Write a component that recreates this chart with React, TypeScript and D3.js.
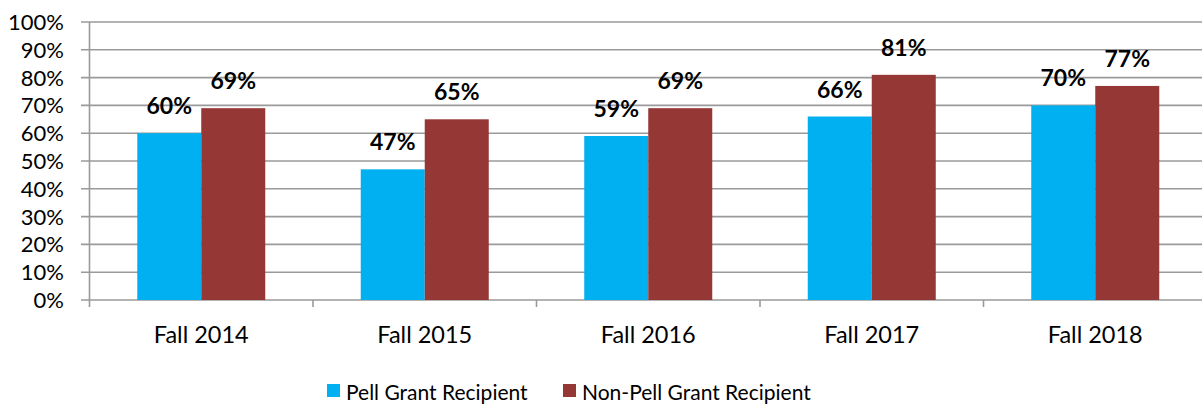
import React, { useEffect, useRef } from "react";
import * as d3 from "d3";

const categories = ["Fall 2014", "Fall 2015", "Fall 2016", "Fall 2017", "Fall 2018"];
const seriesNames = ["Pell Grant Recipient", "Non-Pell Grant Recipient"];
const pell = [0.6, 0.47, 0.59, 0.66, 0.7];
const nonPell = [0.69, 0.65, 0.69, 0.81, 0.77];
const yTicks = [0, 0.1, 0.2, 0.3, 0.4, 0.5, 0.6, 0.7, 0.8, 0.9, 1];
const colors = ["#00B0F0", "#953735"];

const App = () => {
  const ref = useRef<SVGSVGElement>(null);

  useEffect(() => {
    const width = 1202;
    const height = 405;
    const font = "Lato, 'Open Sans', sans-serif";

    const svg = d3.select(ref.current)
      .attr("width", width)
      .attr("height", height)
      .style("background", "#fff");
    svg.selectAll("*").remove();

    const x0 = d3.scaleBand().domain(categories).range([89.5, 1207]).padding(0);
    const x1 = d3.scaleBand().domain(seriesNames).range([0, x0.bandwidth()]).paddingInner(0).paddingOuter(0.746);
    const y = d3.scaleLinear().domain([0, 1]).range([300, 22]);

    // gridlines
    svg.append("g")
      .selectAll("line")
      .data(yTicks)
      .join("line")
      .attr("x1", 81)
      .attr("x2", width)
      .attr("y1", d => y(d))
      .attr("y2", d => y(d))
      .attr("stroke", "#9a9a9a")
      .attr("stroke-width", 1.6);

    // y axis line
    svg.append("line")
      .attr("x1", 89.5).attr("x2", 89.5)
      .attr("y1", y(1)).attr("y2", y(0) + 7)
      .attr("stroke", "#9a9a9a")
      .attr("stroke-width", 1.6);

    // category ticks
    svg.append("g")
      .selectAll("line")
      .data(categories.slice(1))
      .join("line")
      .attr("x1", d => x0(d)!)
      .attr("x2", d => x0(d)!)
      .attr("y1", y(0))
      .attr("y2", y(0) + 7)
      .attr("stroke", "#9a9a9a")
      .attr("stroke-width", 1.6);

    // y tick labels
    svg.append("g")
      .selectAll("text")
      .data(yTicks)
      .join("text")
      .attr("x", 64)
      .attr("y", d => y(d) + 8)
      .attr("text-anchor", "end")
      .style("font-family", font)
      .style("font-size", "22px")
      .attr("fill", "#000")
      .text(d => d3.format(".0%")(d));

    const rows = categories.map((c, i) => ({ cat: c, vals: [pell[i], nonPell[i]] }));

    const groups = svg.append("g")
      .selectAll("g")
      .data(rows)
      .join("g")
      .attr("transform", d => `translate(${x0(d.cat)},0)`);

    groups.selectAll("rect")
      .data(d => d.vals.map((v, j) => ({ v, s: seriesNames[j], j })))
      .join("rect")
      .attr("x", d => x1(d.s)!)
      .attr("width", x1.bandwidth())
      .attr("y", d => y(d.v))
      .attr("height", d => y(0) - y(d.v))
      .attr("fill", d => colors[d.j]);

    groups.selectAll("text")
      .data(d => d.vals.map((v, j) => ({ v, s: seriesNames[j] })))
      .join("text")
      .attr("x", d => x1(d.s)! + x1.bandwidth() / 2)
      .attr("y", d => y(d.v) - 19)
      .attr("text-anchor", "middle")
      .style("font-family", font)
      .style("font-size", "23px")
      .style("font-weight", "bold")
      .attr("fill", "#000")
      .text(d => d3.format(".0%")(d.v));

    // category labels
    svg.append("g")
      .selectAll("text")
      .data(categories)
      .join("text")
      .attr("x", d => x0(d)! + x0.bandwidth() / 2)
      .attr("y", 343)
      .attr("text-anchor", "middle")
      .style("font-family", font)
      .style("font-size", "23.5px")
      .attr("fill", "#000")
      .text(d => d);

    // legend
    const legendX = [327, 563];
    const legend = svg.append("g")
      .selectAll("g")
      .data(seriesNames)
      .join("g")
      .attr("transform", (d, i) => `translate(${legendX[i]},0)`);
    legend.append("rect")
      .attr("x", 0).attr("y", 384)
      .attr("width", 13).attr("height", 13)
      .attr("fill", (d, i) => colors[i]);
    legend.append("text")
      .attr("x", 19).attr("y", 400)
      .style("font-family", font)
      .style("font-size", "21px")
      .attr("fill", "#000")
      .text(d => d);
  }, []);

  return (
    <div style={{ position: "fixed", top: 0, left: 0 }}>
      <svg ref={ref} style={{ display: "block" }} />
    </div>
  );
};

export default App;
